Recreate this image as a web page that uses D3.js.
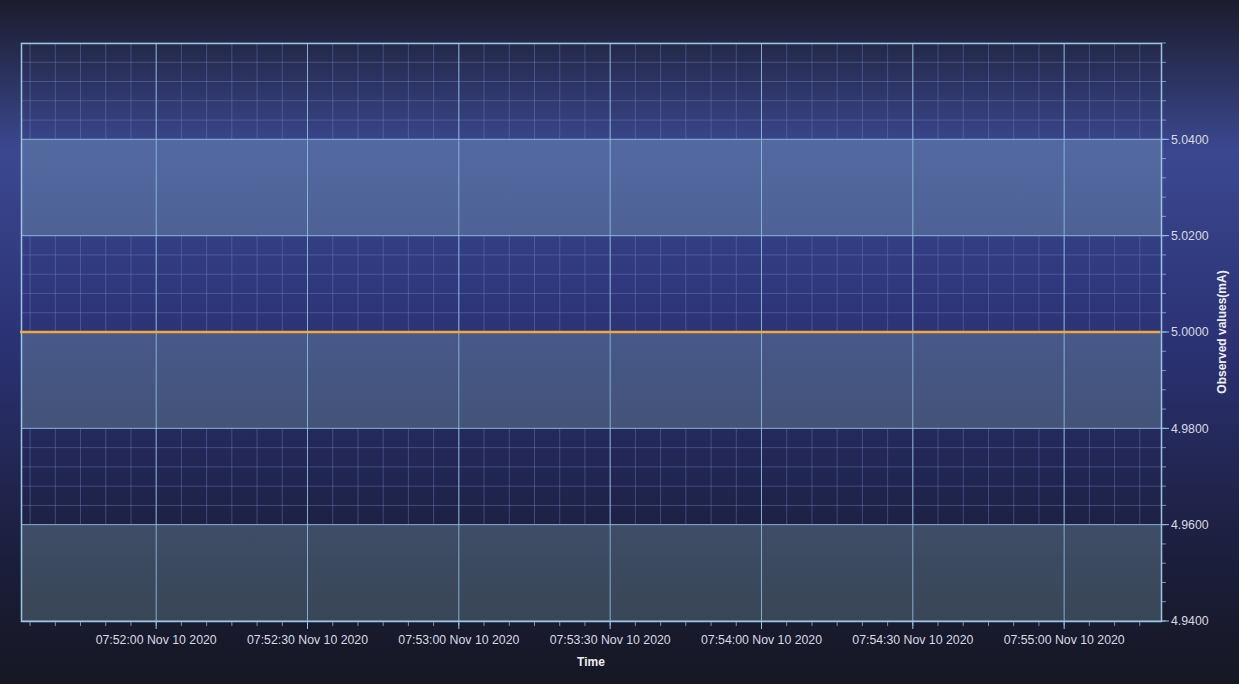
<!DOCTYPE html>
<html>
<head>
<meta charset="utf-8">
<script src="https://cdn.jsdelivr.net/npm/d3@7"></script>
<style>
  html, body { margin: 0; padding: 0; background: #161824; }
  svg { display: block; font-family: "Liberation Sans", Arial, sans-serif; }
</style>
</head>
<body>
<div id="chart"></div>
<script>
// data
const times = ["07:51:33", "07:52:00", "07:52:30", "07:53:00", "07:53:30", "07:54:00", "07:54:30", "07:55:00", "07:55:19"];
const values = [5.0, 5.0, 5.0, 5.0, 5.0, 5.0, 5.0, 5.0, 5.0];
const yTicks = [4.94, 4.96, 4.98, 5.00, 5.02, 5.04];
const yDomain = [4.94, 5.06];
const xDomain = ["07:51:33.2", "07:55:19.2"];
const xTitle = "Time";
const yTitle = "Observed values(mA)";

const width = 1239, height = 684;
const margin = { top: 43, right: 78, bottom: 63, left: 21 };

const parse = s => {
    const [h, m, sec] = s.split(":");
    const whole = Math.floor(+sec);
    return new Date(2020, 10, 10, +h, +m, whole, Math.round((+sec - whole) * 1000));
};
const data = times.map((t, i) => ({ t: parse(t), v: values[i] }));

const x = d3.scaleTime()
    .domain(xDomain.map(parse))
    .range([margin.left, width - margin.right]);
const y = d3.scaleLinear()
    .domain(yDomain)
    .range([height - margin.bottom, margin.top]);

const majorX = d3.timeSecond.every(30).range(x.domain()[0], x.domain()[1]);
const minorX = d3.timeSecond.every(5).range(x.domain()[0], x.domain()[1]);
const minorY = d3.range(0, 31).map(i => yDomain[0] + i * 0.004).filter(v => v <= yDomain[1] + 1e-9);

const svg = d3.select("#chart")
    .append("svg")
    .attr("width", width)
    .attr("height", height);

const defs = svg.append("defs");
const bg = defs.append("linearGradient")
    .attr("id", "bg").attr("x1", 0).attr("y1", 0).attr("x2", 0).attr("y2", 1);
bg.append("stop").attr("offset", "0%").attr("stop-color", "#1b1c2c");
bg.append("stop").attr("offset", "22%").attr("stop-color", "#3b4890");
bg.append("stop").attr("offset", "50%").attr("stop-color", "#2b3274");
bg.append("stop").attr("offset", "80%").attr("stop-color", "#1c1f3e");
bg.append("stop").attr("offset", "100%").attr("stop-color", "#151722");

const bandGrad = defs.append("linearGradient")
    .attr("id", "band").attr("gradientUnits", "userSpaceOnUse")
    .attr("x1", 0).attr("y1", margin.top).attr("x2", 0).attr("y2", height - margin.bottom);
bandGrad.append("stop").attr("offset", "0%").attr("stop-color", "#5872ac");
bandGrad.append("stop").attr("offset", "50%").attr("stop-color", "#48598a");
bandGrad.append("stop").attr("offset", "100%").attr("stop-color", "#394656");

svg.append("rect").attr("width", width).attr("height", height).attr("fill", "url(#bg)");

const plot = svg.append("g");

// minor grid
plot.append("g").selectAll("line")
    .data(minorX)
    .join("line")
    .attr("x1", d => x(d)).attr("x2", d => x(d))
    .attr("y1", y.range()[1]).attr("y2", y.range()[0])
    .attr("stroke", "#6f82c8").attr("stroke-opacity", 0.42).attr("stroke-width", 1);
plot.append("g").selectAll("line")
    .data(minorY)
    .join("line")
    .attr("y1", d => y(d)).attr("y2", d => y(d))
    .attr("x1", x.range()[0]).attr("x2", x.range()[1])
    .attr("stroke", "#6f82c8").attr("stroke-opacity", 0.42).attr("stroke-width", 1);

// alternating bands
const bands = yTicks.filter((d, i) => i % 2 === 0).map(d => [d, d + 0.02]);
plot.append("g").selectAll("rect")
    .data(bands)
    .join("rect")
    .attr("x", x.range()[0])
    .attr("width", x.range()[1] - x.range()[0])
    .attr("y", d => y(d[1]))
    .attr("height", d => y(d[0]) - y(d[1]))
    .attr("fill", "url(#band)");

// major grid
plot.append("g").selectAll("line")
    .data(majorX)
    .join("line")
    .attr("x1", d => x(d)).attr("x2", d => x(d))
    .attr("y1", y.range()[1]).attr("y2", y.range()[0])
    .attr("stroke", "#92c2e0").attr("stroke-opacity", 0.85);
plot.append("g").selectAll("line")
    .data(yTicks)
    .join("line")
    .attr("y1", d => y(d)).attr("y2", d => y(d))
    .attr("x1", x.range()[0]).attr("x2", x.range()[1])
    .attr("stroke", "#92c2e0").attr("stroke-opacity", 0.85);

// plot border
plot.append("rect")
    .attr("x", x.range()[0] + 0.5).attr("y", y.range()[1] + 0.5)
    .attr("width", x.range()[1] - x.range()[0])
    .attr("height", y.range()[0] - y.range()[1])
    .attr("fill", "none").attr("stroke", "#9cc6e4").attr("stroke-width", 1.5);

// series line
plot.append("path")
    .datum(data)
    .attr("fill", "none")
    .attr("stroke", "#f2a93b")
    .attr("stroke-width", 2.5)
    .attr("d", d3.line().x(d => x(d.t)).y(d => y(d.v)));

// x axis
const fmtX = d3.timeFormat("%H:%M:%S %b %d %Y");
const xAxis = svg.append("g")
    .attr("transform", `translate(0,${y.range()[0]})`);
xAxis.append("g").selectAll("line")
    .data(minorX)
    .join("line")
    .attr("x1", d => x(d)).attr("x2", d => x(d))
    .attr("y1", 0).attr("y2", 5)
    .attr("stroke", "#9cc6e4").attr("stroke-opacity", 0.7);
xAxis.append("g").selectAll("line")
    .data(majorX)
    .join("line")
    .attr("x1", d => x(d)).attr("x2", d => x(d))
    .attr("y1", 0).attr("y2", 8)
    .attr("stroke", "#9cc6e4");
xAxis.append("g").selectAll("text")
    .data(majorX)
    .join("text")
    .attr("x", d => x(d))
    .attr("y", 23)
    .attr("text-anchor", "middle")
    .attr("fill", "#d8dae2")
    .attr("font-size", 12.3)
    .text(d => fmtX(d));
xAxis.append("text")
    .attr("x", (x.range()[0] + x.range()[1]) / 2)
    .attr("y", 45)
    .attr("text-anchor", "middle")
    .attr("fill", "#eeeeee")
    .attr("font-size", 12)
    .attr("font-weight", "bold")
    .text(xTitle);

// y axis (right)
const yAxis = svg.append("g")
    .attr("transform", `translate(${x.range()[1]},0)`);
yAxis.append("g").selectAll("line")
    .data(minorY)
    .join("line")
    .attr("y1", d => y(d)).attr("y2", d => y(d))
    .attr("x1", 0).attr("x2", 5)
    .attr("stroke", "#9cc6e4").attr("stroke-opacity", 0.7);
yAxis.append("g").selectAll("line")
    .data(yTicks)
    .join("line")
    .attr("y1", d => y(d)).attr("y2", d => y(d))
    .attr("x1", 0).attr("x2", 8)
    .attr("stroke", "#9cc6e4");
yAxis.append("g").selectAll("text")
    .data(yTicks)
    .join("text")
    .attr("x", 10)
    .attr("y", d => y(d))
    .attr("dy", "0.35em")
    .attr("fill", "#d8dae2")
    .attr("font-size", 12.3)
    .text(d => d3.format(".4f")(d));
yAxis.append("text")
    .attr("transform", `translate(65,${(y.range()[0] + y.range()[1]) / 2}) rotate(-90)`)
    .attr("text-anchor", "middle")
    .attr("fill", "#eeeeee")
    .attr("font-size", 12)
    .attr("font-weight", "bold")
    .text(yTitle);
</script>
</body>
</html>
